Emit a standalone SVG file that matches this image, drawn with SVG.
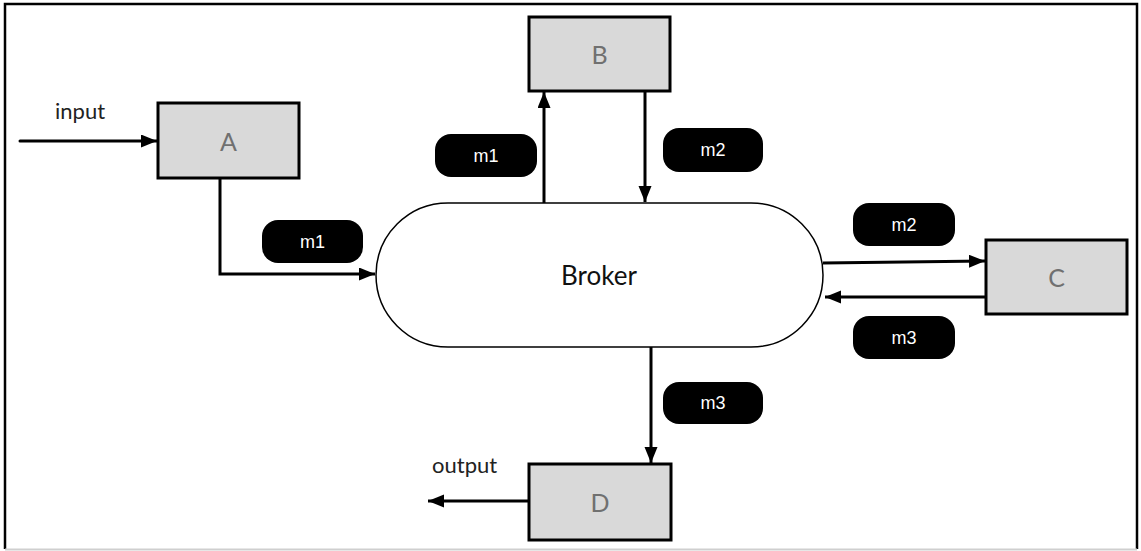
<svg xmlns="http://www.w3.org/2000/svg" width="1141" height="551" viewBox="0 0 1141 551">
<style>
.box{fill:#d9d9d9;stroke:#000;stroke-width:3}
.lbl{font-family:Lato,"Noto Sans",sans-serif;font-size:25px;fill:#707070;text-anchor:middle;dominant-baseline:central}
.pill{fill:#000}
.ptxt{font-family:"Liberation Sans",Arial,sans-serif;font-size:18px;fill:#fff;text-anchor:middle;dominant-baseline:central}
.edge{fill:none;stroke:#000;stroke-width:3}
.io{font-family:Lato,"Noto Sans",sans-serif;font-size:22px;fill:#222}
</style>
<defs>
<marker id="ah" markerUnits="userSpaceOnUse" markerWidth="17" markerHeight="14" refX="16" refY="6.5" orient="auto">
<path d="M0,0 L16,6.5 L0,13 z" fill="#000"/>
</marker>
</defs>
<rect x="0" y="0" width="1141" height="551" fill="#fff"/>
<path d="M5,549 V4 H1137 V549" fill="none" stroke="#000" stroke-width="2.5"/>
<line x1="5" y1="549.5" x2="1137" y2="549.5" stroke="#cfcfcf" stroke-width="2"/>

<g id="connectors">
<path class="edge" d="M20,141 H157" marker-end="url(#ah)" stroke-linecap="round"/>
<path class="edge" d="M220,178 V274 H375" marker-end="url(#ah)"/>
<path class="edge" d="M544,203 V92" marker-end="url(#ah)"/>
<path class="edge" d="M645,91 V202" marker-end="url(#ah)"/>
<path class="edge" d="M823,263 L985,261" marker-end="url(#ah)"/>
<path class="edge" d="M986,297 L825,297" marker-end="url(#ah)"/>
<path class="edge" d="M651,347 V463" marker-end="url(#ah)"/>
<path class="edge" d="M529,501 H428" marker-end="url(#ah)"/>
<text class="io" x="55" y="119">input</text>
<text class="io" x="432" y="473">output</text>
<g>
<rect class="pill" x="262" y="220" width="101" height="43" rx="16"/>
<text class="ptxt" x="312.5" y="241.5">m1</text>
<rect class="pill" x="435" y="134" width="102" height="43" rx="16"/>
<text class="ptxt" x="486" y="155.5">m1</text>
<rect class="pill" x="663" y="128" width="100" height="44" rx="16"/>
<text class="ptxt" x="713" y="150">m2</text>
<rect class="pill" x="853" y="203" width="102" height="43" rx="16"/>
<text class="ptxt" x="904" y="224.5">m2</text>
<rect class="pill" x="853" y="316" width="102" height="43" rx="16"/>
<text class="ptxt" x="904" y="337.5">m3</text>
<rect class="pill" x="663" y="382" width="100" height="42" rx="16"/>
<text class="ptxt" x="713" y="403">m3</text>
</g>
</g>

<g id="node-broker">
<rect x="376" y="203" width="447" height="144" rx="72" fill="#fff" stroke="#000" stroke-width="1.5"/>
<text x="599" y="275" font-family="Lato,'Noto Sans',sans-serif" font-size="26" fill="#111" text-anchor="middle" dominant-baseline="central">Broker</text>
</g>
<g id="node-a">
<rect class="box" x="158" y="103" width="141" height="75"/>
<text class="lbl" x="228.5" y="140.5">A</text>
</g>
<g id="node-b">
<rect class="box" x="529" y="17" width="141" height="74"/>
<text class="lbl" x="599.5" y="54">B</text>
</g>
<g id="node-c">
<rect class="box" x="986" y="240" width="141" height="74"/>
<text class="lbl" x="1056.5" y="277">C</text>
</g>
<g id="node-d">
<rect class="box" x="529" y="464" width="142" height="76"/>
<text class="lbl" x="600" y="502">D</text>
</g>
</svg>
